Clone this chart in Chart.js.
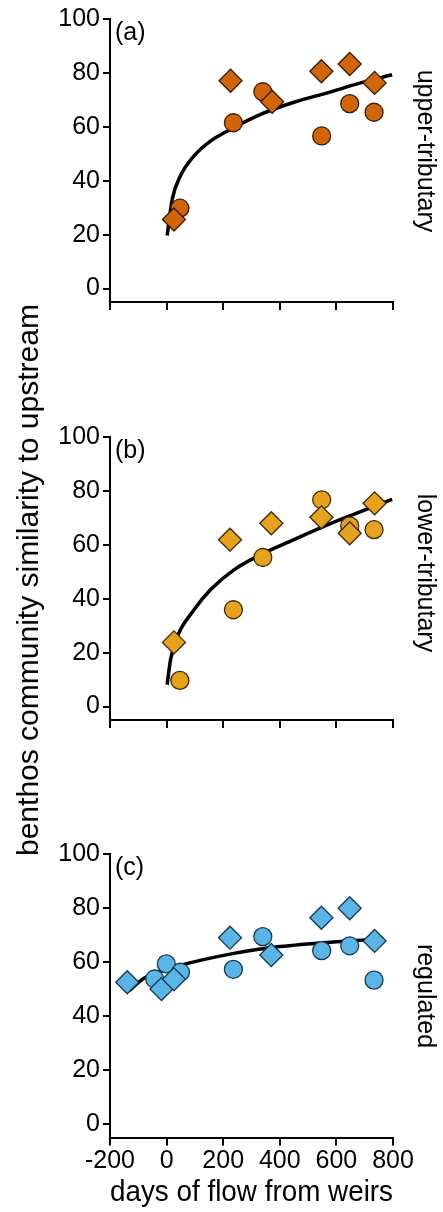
<!DOCTYPE html>
<html><head><meta charset="utf-8">
<script src="https://cdn.jsdelivr.net/npm/chart.js@4/dist/chart.umd.min.js"></script>
<style>
html,body{margin:0;padding:0;background:#fff;}
body{width:443px;height:1212px;position:relative;overflow:hidden;font-family:"Liberation Sans",Arial,sans-serif;}
canvas{position:absolute;left:0;}
#ytitle{position:absolute;left:28px;top:580px;transform:translate(-50%,-50%) rotate(-90deg);white-space:nowrap;font-size:30px;color:#000;font-family:"Liberation Sans",Arial,sans-serif;}
</style></head><body>
<canvas id="ca" width="443" height="320" style="top:0px"></canvas>
<canvas id="cb" width="443" height="320" style="top:418px"></canvas>
<canvas id="cc" width="443" height="377" style="top:835px"></canvas>
<div id="ytitle">benthos community similarity to upstream</div>
<script>
// ---- tick labels ----
const X_TICKS = [-200, 0, 200, 400, 600, 800];
const Y_TICKS = [0, 20, 40, 60, 80, 100];
const X_TITLE = 'days of flow from weirs';

// ---- panel (a) upper-tributary ----
const aDiamondX = [26, 226, 373, 547, 647, 735];
const aDiamondY = [25.6, 77.1, 69.3, 80.6, 83.3, 76.3];
const aCircleX  = [47, 236, 340, 548, 647, 733];
const aCircleY  = [29.8, 61.5, 73.0, 56.6, 68.6, 65.4];
const aFitX = [2, 20, 49, 97, 155, 238, 332, 450, 568, 686, 797];
const aFitY = [19.7, 33.2, 41.8, 49.2, 54.7, 59.7, 64.6, 69.1, 72.6, 76.3, 79.3];

// ---- panel (b) lower-tributary ----
const bDiamondX = [26, 224, 370, 547, 647, 735];
const bDiamondY = [23.8, 61.9, 68.0, 70.2, 64.3, 75.4];
const bCircleX  = [47, 236, 340, 548, 647, 733];
const bCircleY  = [9.7, 35.9, 55.3, 76.7, 67.0, 65.6];
const bFitX = [2, 14, 38, 97, 155, 238, 332, 450, 568, 686, 797];
const bFitY = [8.1, 17.4, 26.0, 35.9, 43.3, 50.7, 56.3, 61.9, 67.4, 72.3, 76.9];

// ---- panel (c) regulated ----
const cDiamondX = [-139, -18, 26, 224, 370, 547, 647, 735];
const cDiamondY = [52.5, 50.0, 53.6, 69.0, 62.6, 76.4, 79.9, 67.8];
const cCircleX  = [-42, -1, 49, 236, 340, 548, 647, 733];
const cCircleY  = [53.7, 59.3, 56.2, 57.3, 69.4, 64.2, 66.0, 53.3];
const cFitX = [-133, -80, 40, 238, 400, 600, 756];
const cFitY = [49.3, 54.0, 58.5, 63.2, 65.7, 67.5, 68.5];

const FONT = '"Liberation Sans", Arial, sans-serif';
const zip = (xs, ys) => xs.map((x, i) => ({x: x, y: ys[i]}));

const panelText = {
  id: 'panelText',
  afterDraw(chart, args, opts) {
    const ctx = chart.ctx, ca = chart.chartArea;
    ctx.save();
    ctx.fillStyle = '#000';
    ctx.font = '25px ' + FONT;
    ctx.textAlign = 'left';
    ctx.textBaseline = 'middle';
    ctx.fillText(opts.letter, ca.left + 5, ca.top + 14);
    ctx.translate(opts.sideX, opts.sideY);
    ctx.rotate(Math.PI / 2);
    ctx.textAlign = 'center';
    ctx.fillText(opts.side, 0, 0);
    ctx.restore();
  }
};

function makePanel(id, diaX, diaY, cirX, cirY, fitX, fitY, fill, edge, letter, side, sideY, showX, canvasH) {
  const xAxisH = canvasH - 302.5;
  new Chart(document.getElementById(id), {
    type: 'scatter',
    data: {
      datasets: [
        { data: zip(diaX, diaY), pointStyle: 'rectRot', pointRadius: 11.5, backgroundColor: fill, borderColor: edge, borderWidth: 1.3 },
        { data: zip(cirX, cirY), pointStyle: 'circle', pointRadius: 9, backgroundColor: fill, borderColor: edge, borderWidth: 1.3 },
        { type: 'line', data: zip(fitX, fitY), showLine: true, pointRadius: 0, borderColor: '#000', borderWidth: 3.5, fill: false, cubicInterpolationMode: 'monotone' }
      ]
    },
    options: {
      responsive: false,
      animation: false,
      devicePixelRatio: 1,
      layout: { padding: { top: 19, right: 50, left: 0, bottom: 0 } },
      plugins: {
        legend: { display: false },
        tooltip: { enabled: false },
        panelText: { letter: letter, side: side, sideX: 425, sideY: sideY }
      },
      scales: {
        x: {
          type: 'linear', min: -200, max: 800,
          afterBuildTicks: s => { s.ticks = X_TICKS.map(v => ({value: v})); },
          ticks: { display: showX, color: '#000', font: { family: FONT, size: 25 }, padding: 1, maxRotation: 0, autoSkip: false },
          grid: { drawOnChartArea: false, drawTicks: true, tickLength: 8, color: '#000', lineWidth: 2 },
          border: { display: true, color: '#000', width: 2 },
          title: { display: showX, text: X_TITLE, color: '#000', font: { family: FONT, size: 30 }, padding: { top: 0, bottom: 1 } },
          afterFit: s => { s.height = xAxisH; }
        },
        y: {
          type: 'linear', min: -5, max: 100,
          afterBuildTicks: s => { s.ticks = Y_TICKS.map(v => ({value: v})); },
          ticks: { color: '#000', font: { family: FONT, size: 25 }, padding: 3 },
          grid: { drawOnChartArea: false, drawTicks: true, tickLength: 7, color: '#000', lineWidth: 2 },
          border: { display: true, color: '#000', width: 2 },
          afterFit: s => { s.width = 110; }
        }
      }
    },
    plugins: [panelText]
  });
}

makePanel('ca', aDiamondX, aDiamondY, aCircleX, aCircleY, aFitX, aFitY, '#D2640A', '#3a1c04', '(a)', 'upper-tributary', 151, false, 320);
makePanel('cb', bDiamondX, bDiamondY, bCircleX, bCircleY, bFitX, bFitY, '#E6A21C', '#3d2906', '(b)', 'lower-tributary', 573 - 418, false, 320);
makePanel('cc', cDiamondX, cDiamondY, cCircleX, cCircleY, cFitX, cFitY, '#5AB4E6', '#163954', '(c)', 'regulated', 996 - 835, true, 377);
</script>
</body></html>
